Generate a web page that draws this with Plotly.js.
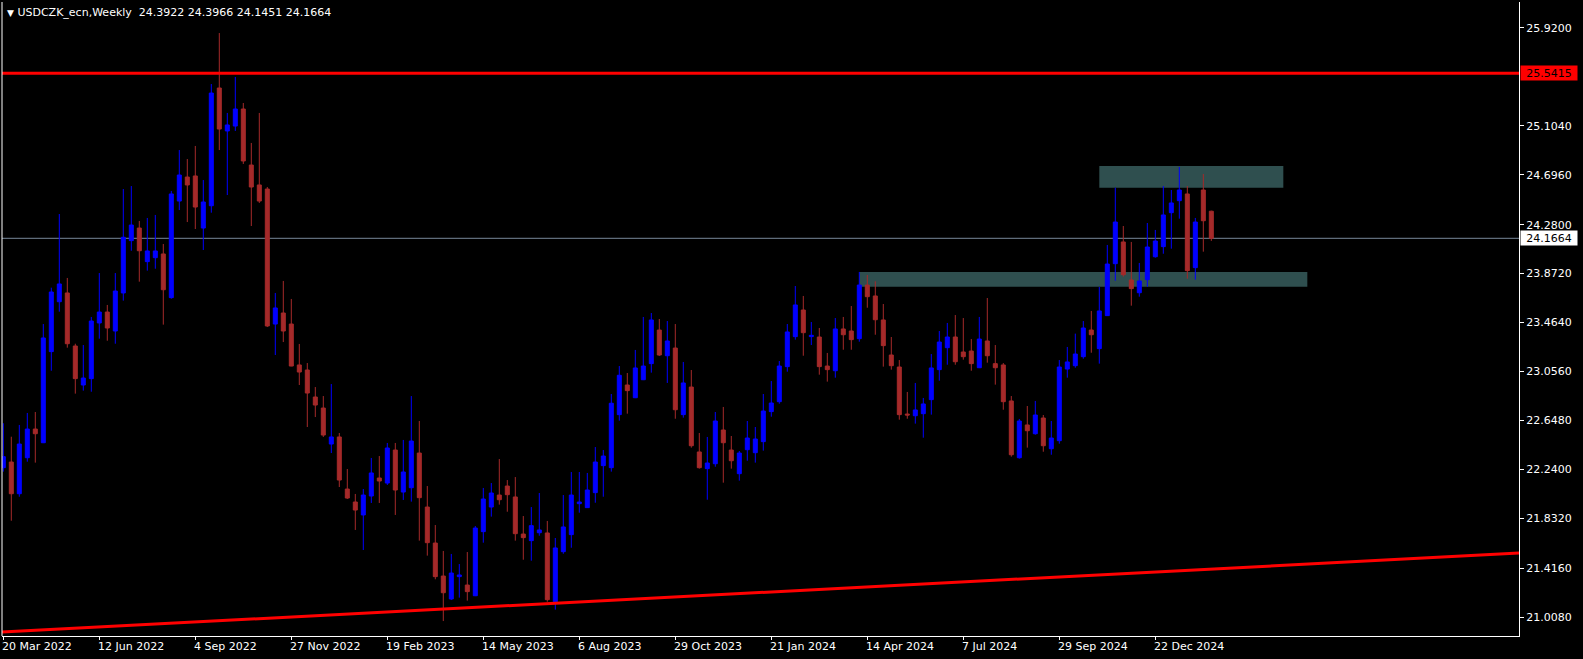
<!DOCTYPE html>
<html>
<head>
<meta charset="utf-8">
<script src="https://cdn.plot.ly/plotly-3.0.1.min.js"></script>
<style>
html,body{margin:0;padding:0;background:#000;overflow:hidden}
#chart{width:1583px;height:659px}
</style>
</head>
<body>
<div id="chart"></div>
<script>
// ---- data ----
const symbolTitle = 'USDCZK_ecn,Weekly';
const lastQuote = ['24.3922', '24.3966', '24.1451', '24.1664'];
const firstWeek = '2022-03-20';

const open = [
22.255, 22.302, 22.038, 22.338, 22.577, 22.463, 23.222, 23.638, 23.711, 23.269,
22.944, 22.997, 23.461, 23.552, 23.394, 23.711, 24.147, 24.252, 23.972, 24.005,
24.036, 23.672, 24.477, 24.677, 24.686, 24.252, 24.438, 25.419, 25.061, 25.102,
25.244, 24.777, 24.611, 24.577, 23.452, 23.544, 23.452, 23.111, 23.069, 22.844,
22.752, 22.452, 22.511, 22.077, 21.969, 21.861, 22.019, 22.169, 22.127, 22.402,
22.052, 22.088, 22.377, 21.927, 21.627, 21.352, 21.161, 21.347, 21.277, 21.188,
21.722, 21.927, 22.027, 22.102, 22.011, 21.702, 21.647, 21.713, 21.711, 21.138,
21.555, 21.697, 21.955, 21.922, 22.047, 22.272, 22.255, 22.697, 22.944, 22.838,
22.988, 23.122, 23.402, 23.188, 23.252, 22.697, 22.927, 22.386, 22.247, 22.288,
22.569, 22.402, 22.205, 22.405, 22.380, 22.472, 22.722, 22.805, 23.097, 23.347,
23.569, 23.347, 23.344, 23.102, 23.063, 23.411, 23.394, 23.330, 23.777, 23.686,
23.486, 23.194, 23.094, 22.702, 22.688, 22.705, 22.822, 23.072, 23.255, 23.344,
23.219, 23.227, 23.088, 23.311, 23.122, 23.111, 22.811, 22.338, 22.611, 22.538,
22.669, 22.413, 22.480, 23.077, 23.105, 23.180, 23.402, 23.247, 23.522, 23.955,
24.136, 23.819, 23.713, 23.822, 24.013, 24.097, 24.380, 24.480, 24.536, 23.922,
24.569, 24.3922
];
const high = [
22.625, 22.513, 22.611, 22.711, 22.719, 23.452, 23.755, 24.369, 23.836, 23.288,
23.277, 23.511, 23.877, 23.611, 23.877, 24.577, 24.602, 24.311, 24.336, 24.361,
24.119, 24.561, 24.902, 24.827, 24.936, 24.652, 25.452, 25.877, 25.211, 25.511,
25.294, 24.961, 25.211, 24.594, 23.711, 23.811, 23.661, 23.286, 23.127, 22.927,
22.852, 22.952, 22.544, 22.244, 22.036, 22.077, 22.336, 22.352, 22.461, 22.461,
22.486, 22.852, 22.644, 22.102, 21.777, 21.561, 21.536, 21.452, 21.552, 21.769,
22.086, 22.127, 22.327, 22.152, 22.177, 21.852, 21.927, 22.044, 21.811, 21.669,
22.027, 22.219, 22.219, 22.211, 22.427, 22.402, 22.869, 23.102, 23.044, 23.236,
23.511, 23.544, 23.494, 23.477, 23.452, 23.136, 23.069, 22.544, 22.511, 22.719,
22.761, 22.519, 22.394, 22.644, 22.594, 22.869, 22.977, 23.144, 23.452, 23.769,
23.686, 23.469, 23.419, 23.211, 23.502, 23.511, 23.602, 23.886, 23.861, 23.808,
23.619, 23.344, 23.152, 22.886, 22.961, 22.836, 23.202, 23.394, 23.461, 23.527,
23.502, 23.327, 23.511, 23.669, 23.277, 23.127, 22.852, 22.661, 22.769, 22.811,
22.694, 22.644, 23.152, 23.261, 23.372, 23.477, 23.561, 23.761, 24.111, 24.588,
24.269, 24.136, 23.961, 24.294, 24.236, 24.602, 24.569, 24.761, 24.602, 24.336,
24.702, 24.3966
];
const low = [
22.222, 21.813, 22.013, 22.305, 22.297, 22.460, 23.063, 23.555, 23.255, 22.872,
22.897, 22.888, 23.330, 23.313, 23.288, 23.647, 24.063, 23.805, 23.897, 23.913,
23.447, 23.663, 24.402, 24.302, 24.244, 24.069, 24.380, 24.902, 24.527, 25.061,
24.786, 24.269, 24.461, 23.427, 23.194, 23.302, 23.100, 22.944, 22.594, 22.677,
22.511, 22.377, 22.094, 21.994, 21.736, 21.569, 21.961, 21.961, 22.111, 21.861,
21.986, 21.972, 21.647, 21.522, 21.325, 20.977, 21.152, 21.172, 21.147, 21.185,
21.630, 21.847, 21.947, 21.888, 21.647, 21.488, 21.480, 21.688, 21.138, 21.072,
21.538, 21.588, 21.880, 21.920, 21.963, 22.013, 22.222, 22.647, 22.705, 22.835,
22.985, 23.047, 23.186, 22.961, 22.663, 22.672, 22.422, 22.247, 21.988, 22.263,
22.130, 22.247, 22.147, 22.313, 22.297, 22.397, 22.680, 22.788, 23.055, 23.322,
23.188, 23.277, 23.030, 22.972, 23.005, 23.238, 23.238, 23.305, 23.588, 23.363,
23.097, 23.072, 22.655, 22.663, 22.622, 22.505, 22.697, 22.980, 23.113, 23.113,
23.155, 23.063, 23.085, 23.130, 22.947, 22.738, 22.347, 22.330, 22.422, 22.530,
22.388, 22.363, 22.455, 23.005, 23.088, 23.163, 23.213, 23.122, 23.520, 23.813,
23.847, 23.605, 23.680, 23.763, 24.005, 24.038, 24.080, 24.330, 23.830, 23.822,
24.055, 24.1451
];
const close = [
22.347, 22.038, 22.452, 22.577, 22.538, 23.336, 23.719, 23.786, 23.288, 22.997,
23.002, 23.477, 23.552, 23.419, 23.727, 24.175, 24.277, 24.063, 24.061, 24.061,
23.738, 24.536, 24.694, 24.611, 24.427, 24.469, 25.377, 25.077, 25.111, 25.244,
24.811, 24.594, 24.477, 23.436, 23.586, 23.394, 23.102, 23.052, 22.877, 22.777,
22.527, 22.511, 22.152, 22.002, 21.902, 22.027, 22.211, 22.144, 22.419, 22.069,
22.219, 22.477, 22.005, 21.630, 21.347, 21.213, 21.377, 21.361, 21.222, 21.752,
21.994, 22.044, 21.988, 22.030, 21.705, 21.672, 21.772, 21.736, 21.155, 21.586,
21.761, 22.027, 21.969, 22.069, 22.302, 22.352, 22.792, 23.025, 22.897, 23.086,
23.102, 23.486, 23.194, 23.311, 22.738, 22.961, 22.438, 22.255, 22.294, 22.644,
22.463, 22.313, 22.377, 22.502, 22.494, 22.727, 22.794, 23.102, 23.386, 23.611,
23.380, 23.358, 23.097, 23.072, 23.411, 23.363, 23.322, 23.777, 23.680, 23.488,
23.272, 23.105, 22.697, 22.694, 22.736, 22.786, 23.086, 23.302, 23.344, 23.138,
23.180, 23.122, 23.327, 23.188, 23.088, 22.805, 22.363, 22.644, 22.563, 22.694,
22.438, 22.502, 23.094, 23.136, 23.202, 23.419, 23.363, 23.561, 23.952, 24.302,
23.863, 23.747, 23.811, 24.094, 24.144, 24.361, 24.461, 24.569, 23.897, 24.302,
24.313, 24.1664
];

const priceTicks = [25.92, 25.104, 24.696, 24.28, 23.872, 23.464, 23.056, 22.648, 22.24, 21.832, 21.416, 21.008];
const priceTickLabels = ['25.9200', '25.1040', '24.6960', '24.2800', '23.8720', '23.4640', '23.0560', '22.6480', '22.2400', '21.8320', '21.4160', '21.0080'];
const dateTicks = ['2022-03-20', '2022-06-12', '2022-09-04', '2022-11-27', '2023-02-19', '2023-05-14', '2023-08-06', '2023-10-29', '2024-01-21', '2024-04-14', '2024-07-07', '2024-09-29', '2024-12-22'];
const dateTickLabels = ['20 Mar 2022', '12 Jun 2022', '4 Sep 2022', '27 Nov 2022', '19 Feb 2023', '14 May 2023', '6 Aug 2023', '29 Oct 2023', '21 Jan 2024', '14 Apr 2024', '7 Jul 2024', '29 Sep 2024', '22 Dec 2024'];

const resistanceLevel = 25.5415;
const resistanceLabel = '25.5415';
const bidLevel = 24.1664;
const bidLabel = '24.1664';

const zoneStart = ['2024-04-07', '2024-11-03'];
const zoneEnd = ['2025-05-04', '2025-04-13'];
const zoneBottom = [23.763, 24.588];
const zoneTop = [23.886, 24.769];

const trendDates = ['2022-03-20', '2024-12-22'];
const trendPrices = [20.886, 21.386];

// ---- helpers ----
const DAY = 86400000, WEEK = 7 * DAY;
const t0 = Date.parse(firstWeek + 'T00:00:00Z');
const toStr = ms => new Date(ms).toISOString().replace('T', ' ').slice(0, 19);
const dates = open.map((_, i) => toStr(t0 + i * WEEK));

const xStartMs = t0 - 0.1625 * WEEK;
const xEndMs = t0 + 189.46 * WEEK;

// extend trend line (ray) to view edges
const ta = Date.parse(trendDates[0] + 'T00:00:00Z'), tb = Date.parse(trendDates[1] + 'T00:00:00Z');
const slope = (trendPrices[1] - trendPrices[0]) / (tb - ta);
const trendAt = ms => trendPrices[0] + slope * (ms - ta);

const FONT = 'DejaVu Sans';

const trace = {
  type: 'candlestick',
  x: dates, open: open, high: high, low: low, close: close,
  increasing: {line: {color: '#0000FF', width: 1}, fillcolor: '#0000FF'},
  decreasing: {line: {color: '#A52A2A', width: 1}, fillcolor: '#A52A2A'},
  whiskerwidth: 0,
  hoverinfo: 'skip',
  showlegend: false
};

const shapes = [];
for (let k = 0; k < zoneStart.length; k++) {
  shapes.push({type: 'rect', xref: 'x', yref: 'y', layer: 'below',
    x0: zoneStart[k], x1: zoneEnd[k], y0: zoneBottom[k], y1: zoneTop[k],
    fillcolor: '#2F4F4F', line: {width: 0}});
}
shapes.push({type: 'line', xref: 'paper', yref: 'y', layer: 'below',
  x0: 0, x1: 1, y0: bidLevel, y1: bidLevel, line: {color: '#778899', width: 1}});
shapes.push({type: 'line', xref: 'paper', yref: 'y', layer: 'above',
  x0: 0, x1: 1, y0: resistanceLevel, y1: resistanceLevel, line: {color: '#FF0000', width: 3}});
shapes.push({type: 'line', xref: 'x', yref: 'y', layer: 'above',
  x0: toStr(xStartMs), x1: toStr(xEndMs), y0: trendAt(xStartMs), y1: trendAt(xEndMs),
  line: {color: '#FF0000', width: 3}});
shapes.push({type: 'line', xref: 'paper', yref: 'paper', layer: 'above',
  x0: 0, x1: 0, y0: 0, y1: 1, line: {color: '#FFFFFF', width: 1}});

const annotations = [];
annotations.push({
  xref: 'paper', yref: 'paper', x: 0, y: 1, xanchor: 'left', yanchor: 'top',
  xshift: 3, yshift: -2, showarrow: false,
  text: '<span style="font-size:9px">\u25BC</span> ' + symbolTitle + '\u00a0\u00a0' + lastQuote.join(' '),
  font: {family: FONT, size: 11, color: '#FFFFFF'}
});
dateTicks.forEach((d, k) => {
  annotations.push({
    xref: 'x', yref: 'paper', x: d, y: 0, xanchor: 'left', yanchor: 'top',
    xshift: -3, yshift: -2, showarrow: false, text: dateTickLabels[k],
    font: {family: FONT, size: 11, color: '#FFFFFF'}
  });
});
[[resistanceLevel, resistanceLabel, '#FF0000'], [bidLevel, bidLabel, '#FFFFFF']].forEach(([v, t, bg]) => {
  annotations.push({
    xref: 'paper', yref: 'y', x: 1, y: v, xanchor: 'left', yanchor: 'middle',
    xshift: 1, showarrow: false, text: t, bgcolor: bg, borderpad: 1,
    width: 54, height: 12, align: 'center',
    font: {family: FONT, size: 11, color: '#000000'}
  });
});

const layout = {
  width: 1583, height: 659,
  margin: {l: 2, r: 64, t: 2, b: 23, pad: 0},
  paper_bgcolor: '#000000', plot_bgcolor: '#000000',
  showlegend: false,
  boxgap: 0.5, boxgroupgap: 0,
  dragmode: false,
  xaxis: {
    type: 'date', range: [toStr(xStartMs), toStr(xEndMs)],
    showgrid: false, zeroline: false,
    showline: true, linecolor: '#FFFFFF', linewidth: 1,
    ticks: 'outside', ticklen: 3, tickcolor: '#FFFFFF', tickwidth: 1,
    tickvals: dateTicks, showticklabels: false,
    rangeslider: {visible: false}, fixedrange: true
  },
  yaxis: {
    side: 'right', range: [20.8523, 26.1357],
    showgrid: false, zeroline: false,
    showline: true, linecolor: '#FFFFFF', linewidth: 1,
    ticks: 'outside', ticklen: 4, tickcolor: '#FFFFFF', tickwidth: 1,
    tickvals: priceTicks, ticktext: priceTickLabels,
    tickfont: {family: FONT, size: 11, color: '#FFFFFF'},
    fixedrange: true
  },
  shapes: shapes,
  annotations: annotations
};

Plotly.newPlot('chart', [trace], layout, {displayModeBar: false, staticPlot: true});
</script>
</body>
</html>
